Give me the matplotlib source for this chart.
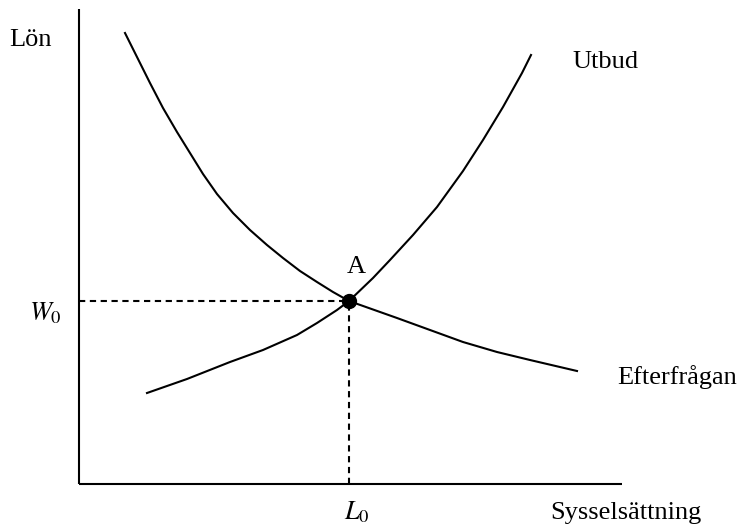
import matplotlib
matplotlib.use("Agg")
import matplotlib.pyplot as plt

plt.rcParams["font.family"] = ["Liberation Serif", "DejaVu Serif"]
plt.rcParams["mathtext.fontset"] = "stix"

# === Data (employment on x, wage on y; origin at axis corner) ===
demand_x = [46, 58, 71, 84, 98, 111, 124, 138, 154, 171, 188, 204, 221, 238, 254,
            270, 318, 351, 384, 418, 451, 498]
demand_y = [451, 427, 401, 376, 352, 331, 310, 290, 271, 254, 239, 226, 213, 202, 192,
            183, 166, 154, 142, 132, 124, 113]

supply_x = [68, 108, 151, 184, 218, 238, 258, 270, 294, 311, 334, 358, 384, 404, 424, 443, 452]
supply_y = [91, 105, 122, 134, 149, 161, 174, 183, 206, 224, 249, 277, 313, 344, 377, 411, 429]

eq_L = 270   # L0
eq_W = 183   # W0

x_axis_end = 543
y_axis_end = 475

# === Figure ===
fig = plt.figure(figsize=(7.44, 5.28), dpi=100)
ax = fig.add_axes([0, 0, 1, 1])
ax.set_xlim(-79, 665)
ax.set_ylim(-44, 484)
ax.axis("off")

# axes lines
ax.plot([0, 0], [0, y_axis_end], color="black", lw=1.5, solid_capstyle="butt")
ax.plot([0, x_axis_end], [0, 0], color="black", lw=1.5, solid_capstyle="butt")

# curves
ax.plot(demand_x, demand_y, color="black", lw=1.5, solid_joinstyle="round")
ax.plot(supply_x, supply_y, color="black", lw=1.5, solid_joinstyle="round")

# dashed guides
dash = (0, (3.0, 2.2))
ax.plot([0, eq_L], [eq_W, eq_W], color="black", lw=1.5, linestyle=dash)
ax.plot([eq_L, eq_L], [0, eq_W], color="black", lw=1.5, linestyle=dash)

# equilibrium point
ax.plot([eq_L], [eq_W], "o", color="black", markersize=10, zorder=5)

fs = 19
ax.text(-49, 444, "Lön", fontsize=fs, ha="center", va="center")
ax.text(-17, 171, r"$W_0$", fontsize=fs, ha="right", va="center")
ax.text(278, -35, r"$L_0$", fontsize=fs, ha="center", va="baseline")
ax.text(471, -35, "Sysselsättning", fontsize=fs, ha="left", va="baseline")
ax.text(493, 422, "Utbud", fontsize=fs, ha="left", va="center")
ax.text(538, 107, "Efterfrågan", fontsize=fs, ha="left", va="center")
ax.text(277, 217, "A", fontsize=fs, ha="center", va="center")

fig.savefig("out.png", dpi=100)
